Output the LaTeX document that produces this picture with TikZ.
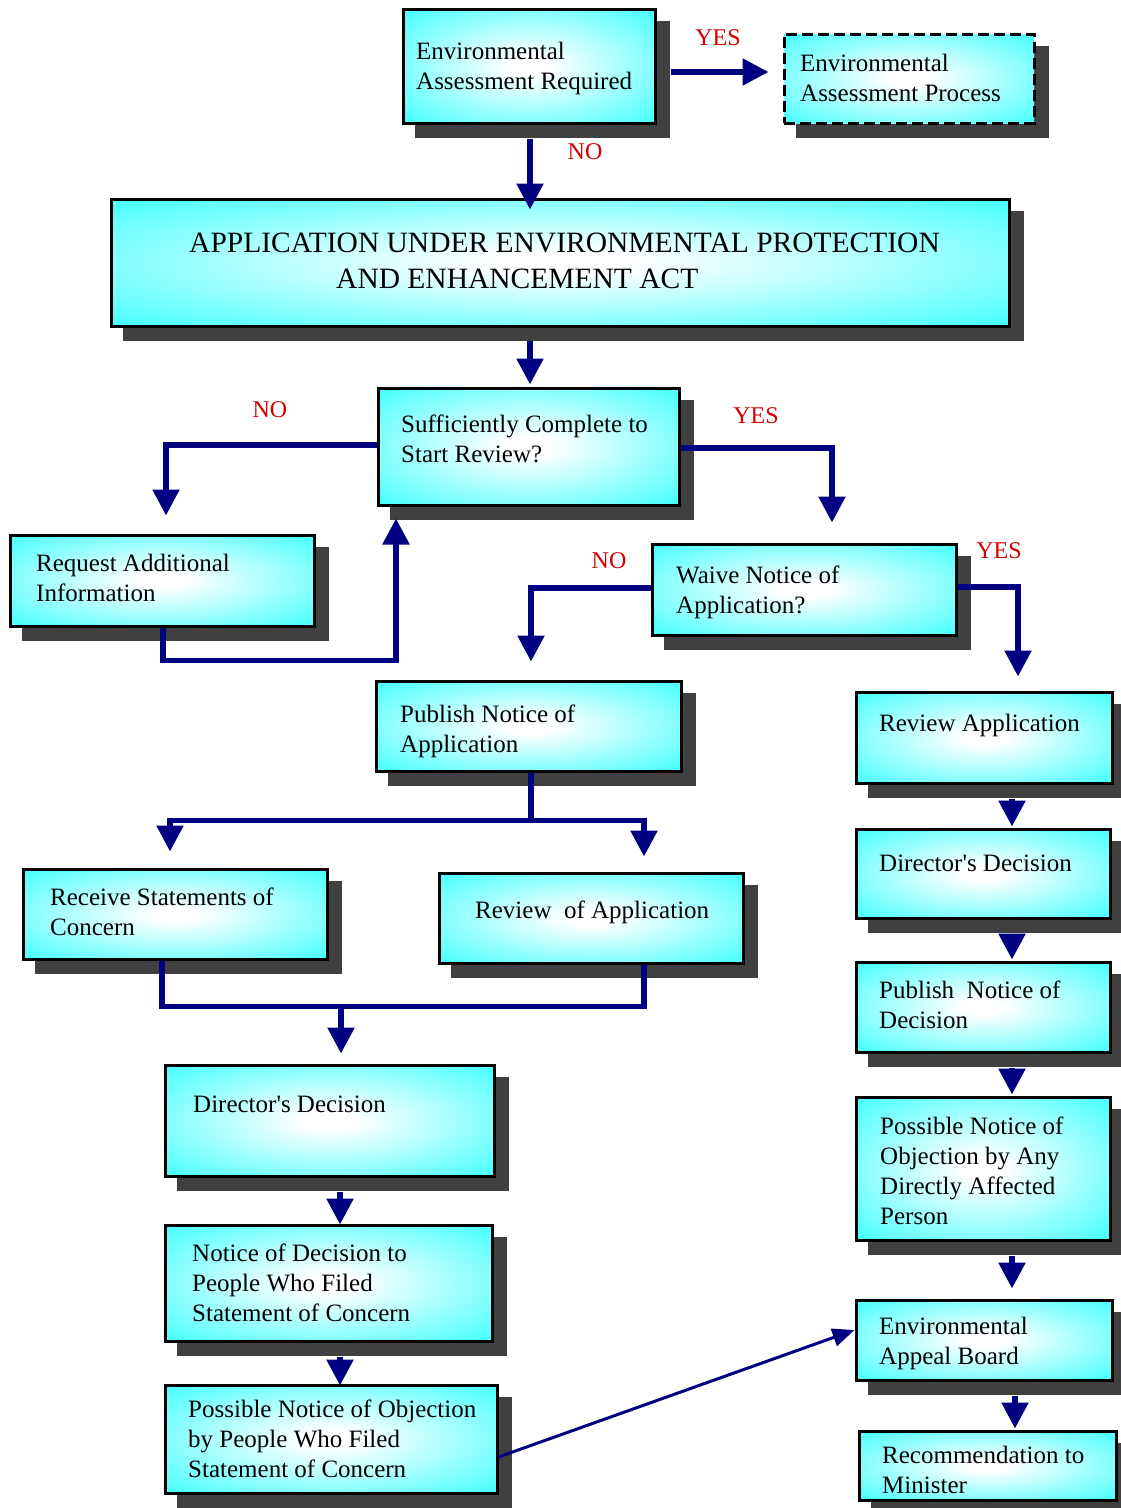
\documentclass[tikz,border=0pt]{standalone}
\usepackage{fontspec}
\setmainfont{Liberation Serif}
\usetikzlibrary{arrows.meta,calc}
\definecolor{cyanfill}{RGB}{70,255,255}
\definecolor{shadowgray}{RGB}{64,64,64}
\definecolor{navyline}{RGB}{0,0,128}
\definecolor{labelred}{RGB}{210,0,0}
\pgfdeclareradialshading{boxshade}{\pgfpoint{0bp}{0bp}}{color(0bp)=(white); color(4bp)=(white); color(35bp)=(cyanfill); color(50bp)=(cyanfill)}
\pgfdeclarelayer{shadowlayer}
\pgfsetlayers{shadowlayer,main}
\newcommand\firstline{\rule{0pt}{20pt}}
\newcommand\firstbig{\rule{0pt}{23pt}}
\newcommand\boxshadow[1]{\fill[shadowgray] ($(#1.south west)+(13.5,13.5)$) rectangle ($(#1.north east)+(13.5,13.5)$);}
\begin{document}
\begin{tikzpicture}[x=1pt,y=-1pt,
  box/.style={rectangle, draw=black, line width=3pt, shading=boxshade, inner sep=0pt},
  sz/.style n args={2}{minimum width=#1pt, minimum height=#2pt},
  dashedbox/.style={dash pattern=on 11pt off 5pt},
  txt/.style={anchor=north west, inner sep=0pt, align=left, font=\fontsize{25}{30}\selectfont},
  bigtxt/.style={anchor=north west, inner sep=0pt, align=left, font=\fontsize{29.5}{36}\selectfont},
  lab/.style={text=labelred, inner sep=0pt, font=\fontsize{24}{29}\selectfont},
  ln/.style={draw=navyline, line width=5.5pt},
  arr/.style={draw=navyline, line width=5.5pt, -{Triangle[length=26pt,width=26pt]}},
  thinarr/.style={draw=navyline, line width=3pt, -{Triangle[length=22pt,width=18pt]}}
]
\useasboundingbox (0,0) rectangle (1120,1508);

% boxes
\node[box, sz={252}{114}] (ear) at (529,66) {};
\node[box, dashedbox, sz={250}{89}] (eap) at (909,78.5) {};
\node[box, sz={898}{127}] (app) at (560,262.5) {};
\node[box, sz={301}{117}] (suf) at (528.5,446.5) {};
\node[box, sz={304}{91}] (req) at (162,580.5) {};
\node[box, sz={304}{91}] (waive) at (804,589.5) {};
\node[box, sz={305}{90}] (pub) at (528.5,726) {};
\node[box, sz={256}{91}] (revR) at (984,737.5) {};
\node[box, sz={304}{90}] (rec) at (175,914) {};
\node[box, sz={304}{90}] (rev) at (591,918) {};
\node[box, sz={254}{89}] (dirR) at (983,873.5) {};
\node[box, sz={329}{111}] (dirL) at (329.5,1120.5) {};
\node[box, sz={254}{90}] (pubD) at (983,1007) {};
\node[box, sz={254}{143}] (posR) at (983,1168.5) {};
\node[box, sz={327}{116}] (notD) at (328.5,1283) {};
\node[box, sz={256}{80}] (eab) at (984,1340) {};
\node[box, sz={332}{108}] (posL) at (331,1439) {};
\node[box, sz={257}{69}] (recm) at (987.5,1465.5) {};

% shadows behind the boxes
\begin{pgfonlayer}{shadowlayer}
\foreach \b in {ear,eap,app,suf,req,waive,pub,revR,rec,rev,dirR,dirL,pubD,posR,notD,eab,posL,recm}{\boxshadow{\b}}
\end{pgfonlayer}

% texts
\node[txt] (t1) at (416,39) {\firstline Environmental\\Assessment Required};
\node[txt] (t2) at (800,51) {\firstline Environmental\\Assessment Process};
\node[bigtxt] (t3) at (189,229) {\firstbig APPLICATION UNDER ENVIRONMENTAL PROTECTION\\\hspace*{147pt}AND ENHANCEMENT ACT};
\node[txt] (t4) at (401,412) {\firstline Sufficiently Complete to\\Start Review?};
\node[txt] (t5) at (36,551) {\firstline Request Additional\\Information};
\node[txt] (t6) at (676,563) {\firstline Waive Notice of\\Application?};
\node[txt] (t7) at (400,702) {\firstline Publish Notice of\\Application};
\node[txt] (t8) at (879,711) {\firstline Review Application};
\node[txt] (t9) at (50,885) {\firstline Receive Statements of\\Concern};
\node[txt] (t10) at (475,898) {\firstline Review\ \ of Application};
\node[txt] (t11) at (879,851) {\firstline Director\textquotesingle s Decision};
\node[txt] (t12) at (879,978) {\firstline Publish\ \ Notice of\\Decision};
\node[txt] (t13) at (880,1114) {\firstline Possible Notice of\\Objection by Any\\Directly Affected\\Person};
\node[txt] (t14) at (193,1092) {\firstline Director\textquotesingle s Decision};
\node[txt] (t15) at (192,1241) {\firstline Notice of Decision to\\People Who Filed\\Statement of Concern};
\node[txt] (t16) at (879,1314) {\firstline Environmental\\Appeal Board};
\node[txt] (t17) at (188,1397) {\firstline Possible Notice of Objection\\by People Who Filed\\Statement of Concern};
\node[txt] (t18) at (882,1443) {\firstline Recommendation to\\Minister};

% labels
\node[lab] (l1) at (718,38) {YES};
\node[lab] (l2) at (585,152) {NO};
\node[lab] (l3) at (270,410) {NO};
\node[lab] (l4) at (756,416) {YES};
\node[lab] (l5) at (609,561) {NO};
\node[lab] (l6) at (999,551) {YES};

% connectors
\draw[arr] ($(ear.east)+(14,6)$) -- ($(eap.west)+(-14,-6.5)$);
\draw[arr] ($(ear.south)+(1,14)$) -- ($(app.north)+(-30,12)$);
\draw[arr] ($(app.south)+(-30,13)$) -- ($(suf.north)+(1.5,-2)$);
\draw[arr] ($(suf.west)+(0,-1.5)$) -| ($(req.north)+(4,-18)$);
\draw[arr] ($(req.south)+(1,0)$) -- ++(0,33) -| ($(suf.south)+(-132.5,12)$);
\draw[arr] ($(suf.east)+(0,1.5)$) -| ($(waive.north)+(28,-20)$);
\draw[arr] ($(waive.west)+(0,-1.5)$) -| ($(pub.north)+(2.5,-18)$);
\draw[arr] ($(waive.east)+(0,-2.5)$) -| ($(revR.north)+(34,-14)$);

\coordinate (j1) at ($(pub.south)+(2.5,48)$);
\draw[ln] ($(pub.south)+(2.5,0)$) -- (j1);
\draw[arr] (j1) -| ($(rec.north)+(-5,-16)$);
\draw[arr] (j1) -| ($(rev.north)+(53,-15)$);

\coordinate (j2) at ($(dirL.north)+(11.5,-60)$);
\draw[ln] ($(rec.south)+(-13,0)$) |- ($(rev.south)+(53,42)$) -- ($(rev.south)+(53,0)$);
\draw[arr] (j2) -- ($(dirL.north)+(11.5,-10)$);

\draw[arr] ($(dirL.south)+(10.5,14)$) -- ($(notD.north)+(11.5,1)$);
\draw[arr] ($(notD.south)+(11.5,14)$) -- ($(posL.north)+(9,2)$);
\draw[thinarr] ($(posL.east)+(0,18)$) -- ($(eab.west)+(0,-10)$);

\draw[arr] ($(revR.south)+(28,14)$) -- ($(dirR.north)+(29,-1)$);
\draw[arr] ($(dirR.south)+(29,14)$) -- ($(pubD.north)+(29,-1)$);
\draw[arr] ($(pubD.south)+(29,14)$) -- ($(posR.north)+(29,-1)$);
\draw[arr] ($(posR.south)+(29,14)$) -- ($(eab.north)+(28,-10)$);
\draw[arr] ($(eab.south)+(31,14)$) -- ($(recm.north)+(27.5,-1)$);
\end{tikzpicture}
\end{document}
